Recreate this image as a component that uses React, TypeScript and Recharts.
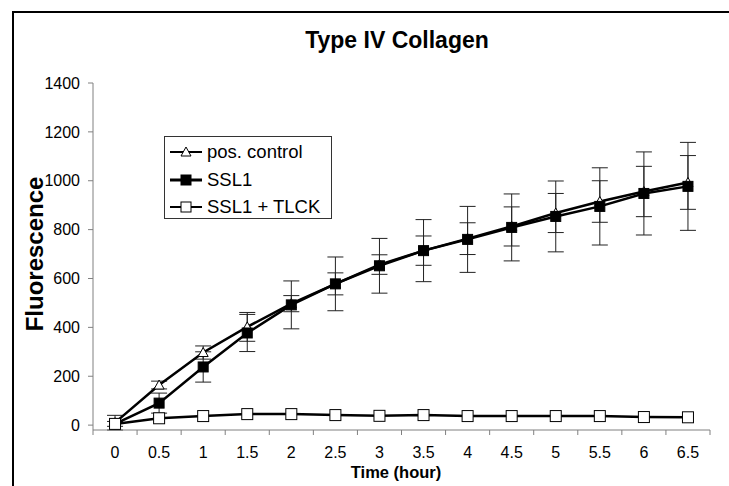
import React from 'react';
import { LineChart, Line, XAxis, YAxis, ErrorBar, Label } from 'recharts';

// hours, every half hour
const times = [0, 0.5, 1, 1.5, 2, 2.5, 3, 3.5, 4, 4.5, 5, 5.5, 6, 6.5];
const posControl = [10, 164, 297, 402, 497, 578, 657, 714, 763, 813, 868, 915, 956, 993];
const posControlErr = [30, 16, 27, 59, 33, 45, 40, 60, 65, 80, 80, 85, 103, 110];
const ssl1 = [5, 90, 238, 377, 492, 578, 652, 714, 760, 809, 854, 895, 948, 977];
const ssl1Err = [10, 41, 62, 76, 98, 110, 112, 127, 135, 137, 145, 158, 170, 180];
const ssl1Tlck = [5, 28, 37, 45, 45, 41, 38, 41, 37, 37, 37, 37, 33, 32];
const yTicks = [0, 200, 400, 600, 800, 1000, 1200, 1400];

const seriesNames = ['pos. control', 'SSL1', 'SSL1 + TLCK'];

const data = times.map((t, i) => ({
  time: t,
  pos: posControl[i],
  posErr: posControlErr[i],
  ssl1: ssl1[i],
  ssl1Err: ssl1Err[i],
  tlck: ssl1Tlck[i],
}));

// tick marks sit between categories, labels on them (Excel style)
const bounds = [...times.map((t) => t - 0.25), times[times.length - 1] + 0.25];
const xTicks = [...times, ...bounds].sort((a, b) => a - b);

const FONT = '"Liberation Sans", Arial, sans-serif';
const AXIS = '#808080';

const Triangle = ({ cx, cy, s = 5 }: any) => (
  <polygon
    points={`${cx},${cy - s} ${cx + s},${cy + s * 0.8} ${cx - s},${cy + s * 0.8}`}
    fill="#fff"
    stroke="#000"
    strokeWidth={1}
  />
);

const Square = ({ cx, cy, s = 5, fill }: any) => (
  <rect x={cx - s} y={cy - s} width={s * 2} height={s * 2} fill={fill} stroke="#000" strokeWidth={1} />
);

const XTick = (props: any) => {
  const { x, y, payload } = props;
  if (!times.includes(payload.value)) {
    return <line x1={x} x2={x} y1={y} y2={y + 5} stroke={AXIS} strokeWidth={1} />;
  }
  return (
    <text x={x} y={y + 28} textAnchor="middle" fontSize={16} fontFamily={FONT} fill="#000">
      {payload.value}
    </text>
  );
};

const markers = [
  (cx: number, cy: number) => <Triangle cx={cx} cy={cy} s={5} />,
  (cx: number, cy: number) => <Square cx={cx} cy={cy} s={5} fill="#000" />,
  (cx: number, cy: number) => <Square cx={cx} cy={cy} s={5} fill="#fff" />,
];

const LegendBox = () => (
  <div
    style={{
      position: 'absolute',
      left: 164,
      top: 136,
      width: 166,
      height: 81,
      border: '1px solid #333',
      background: '#fff',
      fontFamily: FONT,
      fontSize: 18.5,
    }}
  >
    {seriesNames.map((name, i) => (
      <div key={name} style={{ position: 'absolute', left: 5, top: 3 + i * 27.5, height: 24, display: 'flex', alignItems: 'center' }}>
        <svg width={32} height={24}>
          <line x1={0} x2={32} y1={12} y2={12} stroke="#000" strokeWidth={i === 1 ? 3 : 2} />
          {markers[i](16, 12)}
        </svg>
        <span style={{ marginLeft: 5, whiteSpace: 'nowrap' }}>{name}</span>
      </div>
    ))}
  </div>
);

export default function App() {
  return (
    <div style={{ position: 'absolute', left: 0, top: 0, width: 729, height: 486, background: '#fff', overflow: 'hidden' }}>
      <div style={{ position: 'absolute', left: 12, top: 11, width: 800, height: 600, borderLeft: '2px solid #000', borderTop: '2px solid #000' }} />
      <div
        style={{
          position: 'absolute',
          left: 197,
          top: 29,
          width: 400,
          textAlign: 'center',
          fontFamily: FONT,
          fontWeight: 'bold',
          fontSize: 23,
          lineHeight: '23px',
        }}
      >
        Type IV Collagen
      </div>
      <div style={{ position: 'absolute', left: 0, top: 0 }}>
        <LineChart width={729} height={486} data={data} margin={{ top: 83, right: 19, bottom: 0, left: 33 }}>
          <XAxis
            dataKey="time"
            type="number"
            domain={[-0.25, 6.75]}
            ticks={xTicks}
            interval={0}
            tick={<XTick />}
            tickLine={false}
            tickSize={0}
            tickMargin={0}
            height={56}
            stroke={AXIS}
            allowDataOverflow
          >
            <Label
              content={() => (
                <text x={396} y={478} textAnchor="middle" fontSize={16.5} fontWeight="bold" fontFamily={FONT} fill="#000">
                  Time (hour)
                </text>
              )}
            />
          </XAxis>
          <YAxis
            domain={[0, 1400]}
            ticks={yTicks}
            interval={0}
            width={60}
            stroke={AXIS}
            tickSize={5}
            tickMargin={8}
            tick={{ fill: '#000', fontSize: 16, fontFamily: FONT }}
          >
            <Label
              content={() => (
                <text
                  x={34}
                  y={254}
                  transform="rotate(-90, 34, 254)"
                  textAnchor="middle"
                  dominantBaseline="central"
                  fontSize={24}
                  fontWeight="bold"
                  fontFamily={FONT}
                  fill="#000"
                >
                  Fluorescence
                </text>
              )}
            />
          </YAxis>
          <Line
            dataKey="pos"
            name={seriesNames[0]}
            stroke="#000"
            strokeWidth={2.5}
            isAnimationActive={false}
            dot={(p: any) => <Triangle key={`t${p.index}`} cx={p.cx} cy={p.cy} s={5} />}
          >
            <ErrorBar dataKey="posErr" width={8} stroke="#222" strokeWidth={1} direction="y" />
          </Line>
          <Line
            dataKey="ssl1"
            name={seriesNames[1]}
            stroke="#000"
            strokeWidth={2.5}
            isAnimationActive={false}
            dot={(p: any) => <Square key={`s${p.index}`} cx={p.cx} cy={p.cy} s={5} fill="#000" />}
          >
            <ErrorBar dataKey="ssl1Err" width={8} stroke="#222" strokeWidth={1} direction="y" />
          </Line>
          <Line
            dataKey="tlck"
            name={seriesNames[2]}
            stroke="#000"
            strokeWidth={2.5}
            isAnimationActive={false}
            dot={(p: any) => <Square key={`w${p.index}`} cx={p.cx} cy={p.cy} s={5.5} fill="#fff" />}
          />
        </LineChart>
      </div>
      <LegendBox />
    </div>
  );
}
